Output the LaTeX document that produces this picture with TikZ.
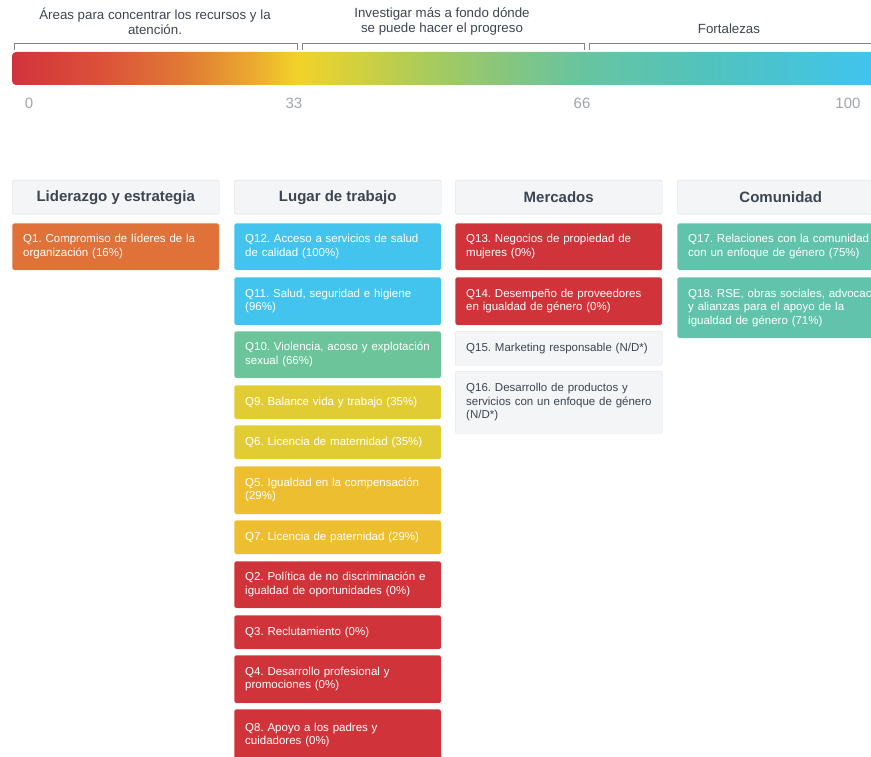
\documentclass[tikz,border=0pt]{standalone}
\usepackage{fontspec}
\setmainfont{Liberation Sans}
\frenchspacing
\definecolor{g0}{HTML}{D1333C}
\definecolor{g10}{HTML}{DB5039}
\definecolor{g20}{HTML}{E07A35}
\definecolor{g28}{HTML}{EBAA2F}
\definecolor{g33}{HTML}{F2D22A}
\definecolor{g40}{HTML}{D2D03E}
\definecolor{g48}{HTML}{A9CB5B}
\definecolor{g58}{HTML}{84C582}
\definecolor{g66}{HTML}{68C4A0}
\definecolor{g80}{HTML}{52C3BC}
\definecolor{g100}{HTML}{3FC4EE}
\definecolor{cred}{HTML}{D0343A}
\definecolor{corange}{HTML}{E07138}
\definecolor{ccyan}{HTML}{43C4EE}
\definecolor{cgreen}{HTML}{6CC49A}
\definecolor{cteal}{HTML}{62C3AC}
\definecolor{cyellow}{HTML}{E2CC33}
\definecolor{camber}{HTML}{EDBE30}
\definecolor{cgrayfill}{HTML}{F4F5F6}
\definecolor{cgrayline}{HTML}{DADDE0}
\definecolor{cdark}{HTML}{3D4551}
\definecolor{cbracket}{HTML}{80868C}
\definecolor{cnum}{HTML}{A0A5AA}
\pgfdeclarehorizontalshading{scorebar}{100bp}{color(0bp)=(g0); color(25bp)=(g0); color(30bp)=(g10); color(35bp)=(g20); color(39bp)=(g28); color(41.5bp)=(g33); color(45bp)=(g40); color(49bp)=(g48); color(54bp)=(g58); color(58bp)=(g66); color(65bp)=(g80); color(75bp)=(g100); color(100bp)=(g100)}
\newcommand{\qq}[1]{\mbox{#1}}
\tikzset{
  qbox/.style={anchor=north west, inner xsep=11pt, inner ysep=0pt, text width=185pt, align=left, rounded corners=1.5pt, font=\fontsize{11.5}{13.5}\selectfont, text=white, draw=white, line width=0.4pt},
  graybox/.style={qbox, fill=cgrayfill, draw=cgrayline, text=cdark},
  header/.style={anchor=north west, minimum width=207pt, minimum height=34pt, inner sep=0pt, fill=cgrayfill, draw=cgrayline, rounded corners=1.5pt, font=\fontsize{15}{18}\selectfont\bfseries, text=cdark},
  toplabel/.style={align=center, font=\fontsize{13.3}{15}\selectfont, text=cdark},
  numlabel/.style={font=\fontsize{15}{17}\selectfont, text=cnum},
  brk/.style={draw=cbracket, line width=0.9pt}
}
\begin{document}
\begin{tikzpicture}[x=1pt,y=-1pt]
\useasboundingbox (0,0) rectangle (871,757);
\clip (0,0) rectangle (871,757);

% labels above
\node[toplabel] (t1) at (155,21) {Áreas para concentrar los recursos y la\\atención.};
\node[toplabel] (t2) at (442,21) {Investigar más a fondo dónde\\se puede hacer el progreso};
\node[toplabel] (t3) at (729,29) {Fortalezas};

% brackets
\draw[brk] (14,50) -- (14,43) -- (297,43) -- (297,50);
\draw[brk] (302,50) -- (302,43) -- (584,43) -- (584,50);
\draw[brk] (589,50) -- (589,43) -- (880,43);

% gradient bar
\shade[shading=scorebar, rounded corners=4pt] (12,52) rectangle (875,85);

% numbers
\node[numlabel] (n0) at (29,103) {0};
\node[numlabel] (n33) at (294,103) {33};
\node[numlabel] (n66) at (582,103) {66};
\node[numlabel] (n100) at (848,103) {100};

% headers
\node[header] (h1) at (12,180) {Liderazgo y estrategia};
\node[header] (h2) at (234,180) {Lugar de trabajo};
\node[header] (h3) at (455,180) {Mercados};
\node[header] (h4) at (677,180) {Comunidad};

% column 1
\node[qbox, fill=corange, minimum height=47pt] (q1) at (12,223) {\qq{Q1. Compromiso de líderes de la}\\\qq{organización (16\%)}};

% column 2
\node[qbox, fill=ccyan, minimum height=47pt] (q12) at (234,223) {\qq{Q12. Acceso a servicios de salud}\\\qq{de calidad (100\%)}};
\node[qbox, fill=ccyan, minimum height=48pt] (q11) at (234,277) {\qq{Q11. Salud, seguridad e higiene}\\\qq{(96\%)}};
\node[qbox, fill=cgreen, minimum height=47pt] (q10) at (234,331) {\qq{Q10. Violencia, acoso y explotación}\\\qq{sexual (66\%)}};
\node[qbox, fill=cyellow, minimum height=34pt] (q9) at (234,385) {\qq{Q9. Balance vida y trabajo (35\%)}};
\node[qbox, fill=cyellow, minimum height=34pt] (q6) at (234,425) {\qq{Q6. Licencia de maternidad (35\%)}};
\node[qbox, fill=camber, minimum height=48pt] (q5) at (234,466) {\qq{Q5. Igualdad en la compensación}\\\qq{(29\%)}};
\node[qbox, fill=camber, minimum height=34pt] (q7) at (234,520) {\qq{Q7. Licencia de paternidad (29\%)}};
\node[qbox, fill=cred, minimum height=47pt] (q2) at (234,561) {\qq{Q2. Política de no discriminación e}\\\qq{igualdad de oportunidades (0\%)}};
\node[qbox, fill=cred, minimum height=34pt] (q3) at (234,615) {\qq{Q3. Reclutamiento (0\%)}};
\node[qbox, fill=cred, minimum height=48pt] (q4) at (234,655) {\qq{Q4. Desarrollo profesional y}\\\qq{promociones (0\%)}};
\node[qbox, fill=cred, minimum height=52pt] (q8) at (234,709) {\qq{Q8. Apoyo a los padres y}\\\qq{cuidadores (0\%)}};

% column 3
\node[qbox, fill=cred, minimum height=47pt] (q13) at (455,223) {\qq{Q13. Negocios de propiedad de}\\\qq{mujeres (0\%)}};
\node[qbox, fill=cred, minimum height=48pt] (q14) at (455,277) {\qq{Q14. Desempeño de proveedores}\\\qq{en igualdad de género (0\%)}};
\node[graybox, minimum height=34pt] (q15) at (455,331) {\qq{Q15. Marketing responsable (N/D*)}};
\node[graybox, minimum height=62pt] (q16) at (455,371) {\qq{Q16. Desarrollo de productos y}\\\qq{servicios con un enfoque de género}\\\qq{(N/D*)}};

% column 4
\node[qbox, fill=cteal, minimum height=47pt] (q17) at (677,223) {\qq{Q17. Relaciones con la comunidad}\\\qq{con un enfoque de género (75\%)}};
\node[qbox, fill=cteal, minimum height=61pt] (q18) at (677,277) {\qq{Q18. RSE, obras sociales, advocacy}\\\qq{y alianzas para el apoyo de la}\\\qq{igualdad de género (71\%)}};
\end{tikzpicture}
\end{document}
